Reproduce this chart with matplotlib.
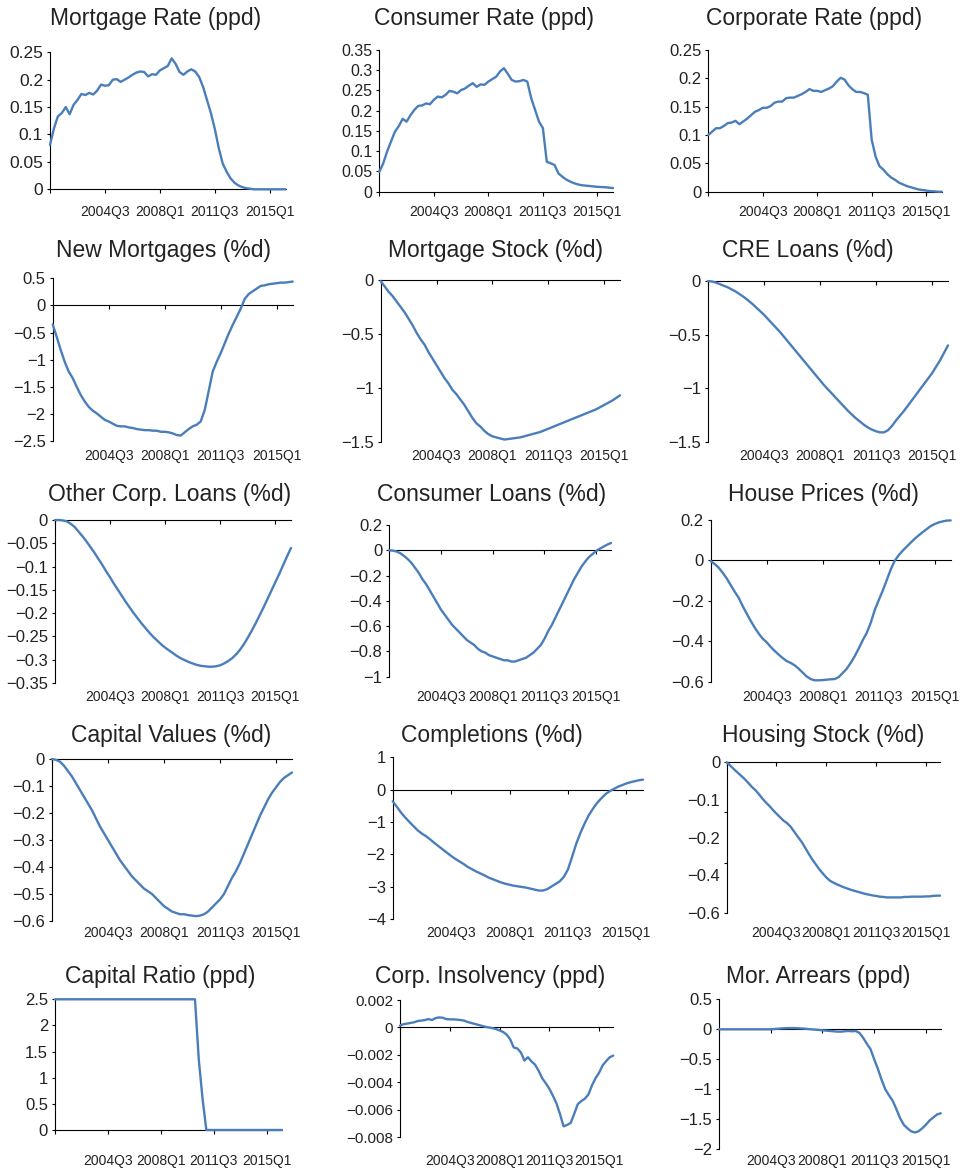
import numpy as np
import matplotlib.pyplot as plt
from matplotlib.transforms import blended_transform_factory

plt.rcParams['font.family'] = ['Liberation Sans', 'DejaVu Sans']

W, H = 968, 1168
LINE = '#4a7ebb'
TXT = '#222222'

# quarterly categories 2001Q1 .. 2016Q1, every 14th one labelled
quarters = [f"{2001 + i // 4}Q{i % 4 + 1}" for i in range(61)]
label_idx = [14, 28, 42, 56]
tick_idx = [0, 14, 28, 42, 56]

mortgage_rate = [0.081, 0.111, 0.133, 0.139, 0.150, 0.137, 0.154, 0.163, 0.174, 0.172,
                 0.176, 0.173, 0.180, 0.191, 0.189, 0.190, 0.200, 0.201, 0.196, 0.200,
                 0.204, 0.209, 0.213, 0.215, 0.214, 0.206, 0.210, 0.209, 0.217, 0.221,
                 0.225, 0.239, 0.229, 0.214, 0.209, 0.215, 0.219, 0.215, 0.205, 0.187,
                 0.163, 0.139, 0.110, 0.075, 0.047, 0.032, 0.020, 0.012, 0.007, 0.004,
                 0.002, 0.001, 0.0, 0.0, 0.0, 0.0, 0.0, 0.0, 0.0, 0.0, 0.0]
consumer_rate = [0.049, 0.070, 0.099, 0.124, 0.148, 0.162, 0.180, 0.173, 0.189, 0.202,
                 0.212, 0.213, 0.218, 0.216, 0.227, 0.235, 0.233, 0.239, 0.249, 0.247,
                 0.243, 0.251, 0.255, 0.262, 0.268, 0.259, 0.265, 0.264, 0.272, 0.278,
                 0.284, 0.297, 0.305, 0.291, 0.276, 0.272, 0.273, 0.276, 0.272, 0.231,
                 0.202, 0.173, 0.157, 0.074, 0.070, 0.066, 0.045, 0.037, 0.030, 0.025,
                 0.021, 0.018, 0.016, 0.015, 0.014, 0.013, 0.012, 0.0115, 0.011, 0.010, 0.009]
corporate_rate = [0.100, 0.106, 0.112, 0.112, 0.116, 0.121, 0.122, 0.125, 0.119, 0.124,
                  0.129, 0.135, 0.141, 0.144, 0.148, 0.148, 0.151, 0.157, 0.159, 0.159,
                  0.165, 0.166, 0.166, 0.169, 0.172, 0.176, 0.181, 0.178, 0.178, 0.176,
                  0.179, 0.182, 0.186, 0.194, 0.201, 0.198, 0.188, 0.181, 0.176, 0.176,
                  0.174, 0.171, 0.092, 0.062, 0.045, 0.039, 0.031, 0.025, 0.021, 0.016,
                  0.013, 0.010, 0.008, 0.006, 0.004, 0.003, 0.002, 0.001, 0.0006, 0.0, 0.0]
new_mortgages = [-0.35, -0.58, -0.82, -1.04, -1.22, -1.34, -1.50, -1.65, -1.77, -1.87,
                 -1.94, -1.99, -2.05, -2.11, -2.14, -2.18, -2.22, -2.23, -2.23, -2.25,
                 -2.26, -2.28, -2.29, -2.30, -2.30, -2.31, -2.31, -2.33, -2.33, -2.34,
                 -2.36, -2.39, -2.40, -2.34, -2.28, -2.23, -2.20, -2.14, -1.93, -1.58,
                 -1.22, -1.04, -0.88, -0.70, -0.52, -0.36, -0.21, -0.06, 0.12, 0.21,
                 0.26, 0.31, 0.36, 0.37, 0.39, 0.40, 0.41, 0.42, 0.42, 0.43, 0.44]
mortgage_stock = [-0.01, -0.06, -0.11, -0.15, -0.20, -0.25, -0.30, -0.36, -0.42, -0.49,
                  -0.55, -0.60, -0.67, -0.73, -0.79, -0.85, -0.91, -0.96, -1.02, -1.06,
                  -1.11, -1.16, -1.22, -1.28, -1.33, -1.36, -1.40, -1.43, -1.45, -1.46,
                  -1.47, -1.48, -1.475, -1.47, -1.465, -1.46, -1.45, -1.44, -1.43, -1.42,
                  -1.41, -1.395, -1.38, -1.365, -1.35, -1.335, -1.32, -1.305, -1.29, -1.275,
                  -1.26, -1.245, -1.23, -1.215, -1.20, -1.18, -1.16, -1.14, -1.12, -1.095, -1.07]
cre_loans = [0.0, -0.005, -0.015, -0.03, -0.045, -0.06, -0.08, -0.10, -0.125, -0.15,
             -0.18, -0.21, -0.245, -0.28, -0.315, -0.355, -0.395, -0.435, -0.475, -0.52,
             -0.565, -0.61, -0.655, -0.70, -0.745, -0.79, -0.835, -0.88, -0.925, -0.97,
             -1.01, -1.05, -1.09, -1.13, -1.17, -1.21, -1.245, -1.28, -1.31, -1.34,
             -1.365, -1.385, -1.40, -1.41, -1.41, -1.39, -1.35, -1.30, -1.255, -1.21,
             -1.16, -1.11, -1.06, -1.01, -0.96, -0.91, -0.86, -0.80, -0.74, -0.67, -0.60]
other_corp_loans = [0.0, 0.0, -0.001, -0.003, -0.008, -0.015, -0.025, -0.035, -0.046, -0.058,
                    -0.070, -0.083, -0.096, -0.110, -0.123, -0.137, -0.150, -0.163, -0.176, -0.188,
                    -0.200, -0.211, -0.222, -0.232, -0.242, -0.251, -0.259, -0.267, -0.274, -0.280,
                    -0.286, -0.292, -0.297, -0.301, -0.305, -0.308, -0.311, -0.313, -0.314, -0.315,
                    -0.315, -0.314, -0.312, -0.308, -0.303, -0.297, -0.289, -0.279, -0.267, -0.253,
                    -0.238, -0.222, -0.205, -0.188, -0.170, -0.152, -0.134, -0.116, -0.097, -0.078, -0.060]
consumer_loans = [0.0, -0.003, -0.01, -0.024, -0.045, -0.07, -0.10, -0.14, -0.18, -0.23,
                  -0.27, -0.32, -0.37, -0.42, -0.47, -0.51, -0.55, -0.59, -0.62, -0.65,
                  -0.68, -0.71, -0.73, -0.75, -0.78, -0.80, -0.81, -0.83, -0.84, -0.85,
                  -0.86, -0.87, -0.87, -0.88, -0.88, -0.87, -0.86, -0.85, -0.83, -0.81,
                  -0.78, -0.75, -0.70, -0.64, -0.59, -0.53, -0.47, -0.41, -0.35, -0.29,
                  -0.23, -0.18, -0.13, -0.09, -0.055, -0.03, -0.005, 0.013, 0.029, 0.045, 0.058]
house_prices = [-0.003, -0.018, -0.036, -0.061, -0.089, -0.122, -0.155, -0.185, -0.226, -0.263,
                -0.299, -0.332, -0.362, -0.387, -0.405, -0.428, -0.448, -0.466, -0.483, -0.498,
                -0.507, -0.519, -0.536, -0.555, -0.574, -0.587, -0.593, -0.593, -0.592, -0.590,
                -0.588, -0.587, -0.577, -0.557, -0.536, -0.507, -0.474, -0.436, -0.395, -0.359,
                -0.309, -0.246, -0.197, -0.150, -0.098, -0.045, -0.002, 0.026, 0.048, 0.068,
                0.088, 0.107, 0.124, 0.140, 0.155, 0.170, 0.180, 0.188, 0.193, 0.197, 0.198]
capital_values = [0.0, -0.003, -0.01, -0.025, -0.045, -0.065, -0.09, -0.115, -0.14, -0.165,
                  -0.19, -0.22, -0.25, -0.275, -0.30, -0.325, -0.35, -0.375, -0.395, -0.415,
                  -0.435, -0.45, -0.465, -0.48, -0.49, -0.50, -0.515, -0.53, -0.545, -0.555,
                  -0.565, -0.57, -0.575, -0.575, -0.578, -0.58, -0.582, -0.58, -0.575, -0.565,
                  -0.55, -0.535, -0.52, -0.50, -0.47, -0.44, -0.415, -0.385, -0.35, -0.315,
                  -0.28, -0.245, -0.21, -0.18, -0.15, -0.125, -0.105, -0.085, -0.07, -0.06, -0.05]
completions = [-0.36, -0.53, -0.71, -0.86, -1.00, -1.13, -1.26, -1.36, -1.44, -1.54,
               -1.65, -1.75, -1.85, -1.95, -2.05, -2.14, -2.22, -2.30, -2.39, -2.46,
               -2.53, -2.59, -2.65, -2.72, -2.77, -2.82, -2.87, -2.91, -2.94, -2.97,
               -2.99, -3.01, -3.03, -3.06, -3.09, -3.12, -3.12, -3.08, -3.00, -2.92,
               -2.84, -2.70, -2.47, -2.08, -1.67, -1.34, -1.05, -0.79, -0.59, -0.41,
               -0.27, -0.14, -0.05, 0.02, 0.09, 0.14, 0.19, 0.23, 0.26, 0.29, 0.31]
housing_stock = [0.0, -0.013, -0.027, -0.040, -0.053, -0.066, -0.081, -0.097, -0.110, -0.126,
                 -0.144, -0.160, -0.174, -0.190, -0.205, -0.219, -0.233, -0.243, -0.257, -0.277,
                 -0.297, -0.316, -0.339, -0.363, -0.386, -0.406, -0.426, -0.443, -0.459, -0.472,
                 -0.480, -0.487, -0.493, -0.499, -0.504, -0.509, -0.513, -0.517, -0.521, -0.525,
                 -0.528, -0.531, -0.533, -0.536, -0.537, -0.539, -0.539, -0.539, -0.539, -0.539,
                 -0.537, -0.537, -0.536, -0.536, -0.536, -0.536, -0.535, -0.535, -0.533, -0.532, -0.532]
# the source chart prints these five labels evenly spaced on a 0..-0.6 axis
housing_stock_ylabels = ['0', '\u22120.1', '\u22120.2', '\u22120.4', '\u22120.6']
capital_ratio = [2.5, 2.5, 2.5, 2.5, 2.5, 2.5, 2.5, 2.5, 2.5, 2.5,
                 2.5, 2.5, 2.5, 2.5, 2.5, 2.5, 2.5, 2.5, 2.5, 2.5,
                 2.5, 2.5, 2.5, 2.5, 2.5, 2.5, 2.5, 2.5, 2.5, 2.5,
                 2.5, 2.5, 2.5, 2.5, 2.5, 2.5, 2.5, 2.5, 1.35, 0.6,
                 0.0, 0.0, 0.0, 0.0, 0.0, 0.0, 0.0, 0.0, 0.0, 0.0,
                 0.0, 0.0, 0.0, 0.0, 0.0, 0.0, 0.0, 0.0, 0.0, 0.0, 0.0]
corp_insolvency = [0.00014, 0.00024, 0.00028, 0.00033, 0.00038, 0.00047, 0.00050, 0.00054, 0.00061, 0.00054,
                   0.00068, 0.00073, 0.00071, 0.00061, 0.00059, 0.00059, 0.00057, 0.00054, 0.00050, 0.00040,
                   0.00033, 0.00026, 0.00019, 0.00012, 0.00005, 0.0, -0.00005, -0.00012, -0.00021, -0.00033,
                   -0.00052, -0.00087, -0.00146, -0.00153, -0.00182, -0.00241, -0.00217, -0.00248, -0.00271, -0.00316,
                   -0.00370, -0.00406, -0.00446, -0.00496, -0.00552, -0.00630, -0.00720, -0.00710, -0.00696, -0.00630,
                   -0.00559, -0.00536, -0.00519, -0.00488, -0.00422, -0.00370, -0.00330, -0.00276, -0.00245, -0.00217, -0.00205]
mor_arrears = [0.0, 0.0, 0.0, 0.0, 0.0, 0.0, 0.0, 0.0, 0.0, 0.0,
               0.0, 0.0, 0.0, 0.0, 0.0, 0.005, 0.01, 0.015, 0.018, 0.02,
               0.02, 0.018, 0.015, 0.012, 0.005, 0.0, -0.005, -0.01, -0.017, -0.022,
               -0.028, -0.033, -0.039, -0.039, -0.033, -0.028, -0.033, -0.028, -0.06, -0.14,
               -0.24, -0.33, -0.50, -0.66, -0.84, -1.00, -1.10, -1.19, -1.33, -1.48,
               -1.59, -1.65, -1.70, -1.72, -1.70, -1.65, -1.59, -1.52, -1.47, -1.42, -1.40]

# title, values, (ymin, ymax, step), plot rect in px (left, top, right, bottom), title x, y-label size
panels = [
    ("Mortgage Rate (ppd)", mortgage_rate, (0, 0.25, 0.05), (50, 52.3, 285.5, 189.3), 156, 12.5),
    ("Consumer Rate (ppd)", consumer_rate, (0, 0.35, 0.05), (379.3, 50, 613, 191.7), 484, 11.5),
    ("Corporate Rate (ppd)", corporate_rate, (0, 0.25, 0.05), (708.3, 50, 941.7, 191.7), 814, 12),
    ("New Mortgages (%d)", new_mortgages, (-2.5, 0.5, 0.5), (52.7, 278.3, 292.7, 441), 164, 12),
    ("Mortgage Stock (%d)", mortgage_stock, (-1.5, 0, 0.5), (380.7, 280, 620, 441.7), 495, 12),
    ("CRE Loans (%d)", cre_loans, (-1.5, 0, 0.5), (708, 281, 948, 442), 808, 12),
    ("Other Corp. Loans (%d)", other_corp_loans, (-0.35, 0, 0.05), (55, 520, 291, 683), 170, 12),
    ("Consumer Loans (%d)", consumer_loans, (-1, 0.2, 0.2), (389.3, 525, 611, 676.7), 492, 12),
    ("House Prices (%d)", house_prices, (-0.6, 0.2, 0.2), (710.7, 520, 950.7, 681.7), 823, 12),
    ("Capital Values (%d)", capital_values, (-0.6, 0, 0.1), (52, 759, 292, 921), 171, 12),
    ("Completions (%d)", completions, (-4, 1, 1), (392.7, 757.3, 643, 919), 492, 12),
    ("Housing Stock (%d)", housing_stock, (-0.6, 0, 0.2), (726.7, 762.3, 940, 912.7), 823, 12),
    ("Capital Ratio (ppd)", capital_ratio, (0, 2.5, 0.5), (55, 999.3, 282, 1130), 160, 12),
    ("Corp. Insolvency (ppd)", corp_insolvency, (-0.008, 0.002, 0.002), (400, 1000, 613.3, 1137.3), 490, 11),
    ("Mor. Arrears (ppd)", mor_arrears, (-2, 0.5, 0.5), (719, 999.3, 940.7, 1149.3), 818, 12),
]
title_base_y = [25, 256.7, 501, 742.3, 982.5]
xlabel_mid_y = [213.3, 457, 698, 933.5, 1161.5]


def fmt(v):
    s = f"{round(v, 6):g}"
    if s == '-0':
        s = '0'
    return s.replace('-', '\u2212')


fig = plt.figure(figsize=(W / 100, H / 100), dpi=100)

for k, (title, vals, (lo, hi, step), (l, t, r, b), tx, ysize) in enumerate(panels):
    row = k // 3
    ax = fig.add_axes([l / W, 1 - b / H, (r - l) / W, (b - t) / H])
    ax.patch.set_alpha(0)
    ax.plot(range(len(vals)), vals, color=LINE, lw=1.7, solid_joinstyle='round',
            solid_capstyle='round', clip_on=False, zorder=3)
    ax.set_xlim(0, len(vals) - 1)
    ax.set_ylim(lo, hi)

    ticks = np.round(np.arange(lo, hi + step / 2, step), 6)
    if title.startswith("Housing Stock"):
        # real tick marks, but the printed labels are spread evenly down the axis
        ax.set_yticks(ticks, [''] * len(ticks))
        trans = blended_transform_factory(ax.transAxes, ax.transData)
        pos = np.linspace(0, lo, len(housing_stock_ylabels))
        for p, s in zip(pos, housing_stock_ylabels):
            ax.text(-6.5 / (r - l), p, s, transform=trans, ha='right', va='center_baseline',
                    fontsize=ysize, color=TXT)
    else:
        ax.set_yticks(ticks, [fmt(v) for v in ticks])
    ax.tick_params(axis='y', which='major', length=2.5, width=0.8, pad=2.5,
                   labelsize=ysize, labelcolor=TXT, color='black')

    for side in ('top', 'right'):
        ax.spines[side].set_visible(False)
    ax.spines['left'].set_linewidth(0.8)
    ax.spines['bottom'].set_linewidth(0.8)
    ax.spines['bottom'].set_position(('data', 0))
    ax.set_xticks(tick_idx)
    ax.tick_params(axis='x', length=3, width=0.8, labelbottom=False, color='black')

    # category labels sit at the bottom of the plot area, not on the zero line
    sec = ax.secondary_xaxis('bottom')
    sec.spines['bottom'].set_visible(False)
    sec.set_xticks(label_idx, [quarters[i] for i in label_idx])
    pad_px = xlabel_mid_y[row] - 7.8 - b
    sec.tick_params(length=0, pad=pad_px * 0.72, labelsize=10, labelcolor=TXT)

    fig.text(tx / W, 1 - title_base_y[row] / H, title, ha='center', va='baseline',
             fontsize=16.5, color=TXT)

plt.savefig("out.png", dpi=100)
